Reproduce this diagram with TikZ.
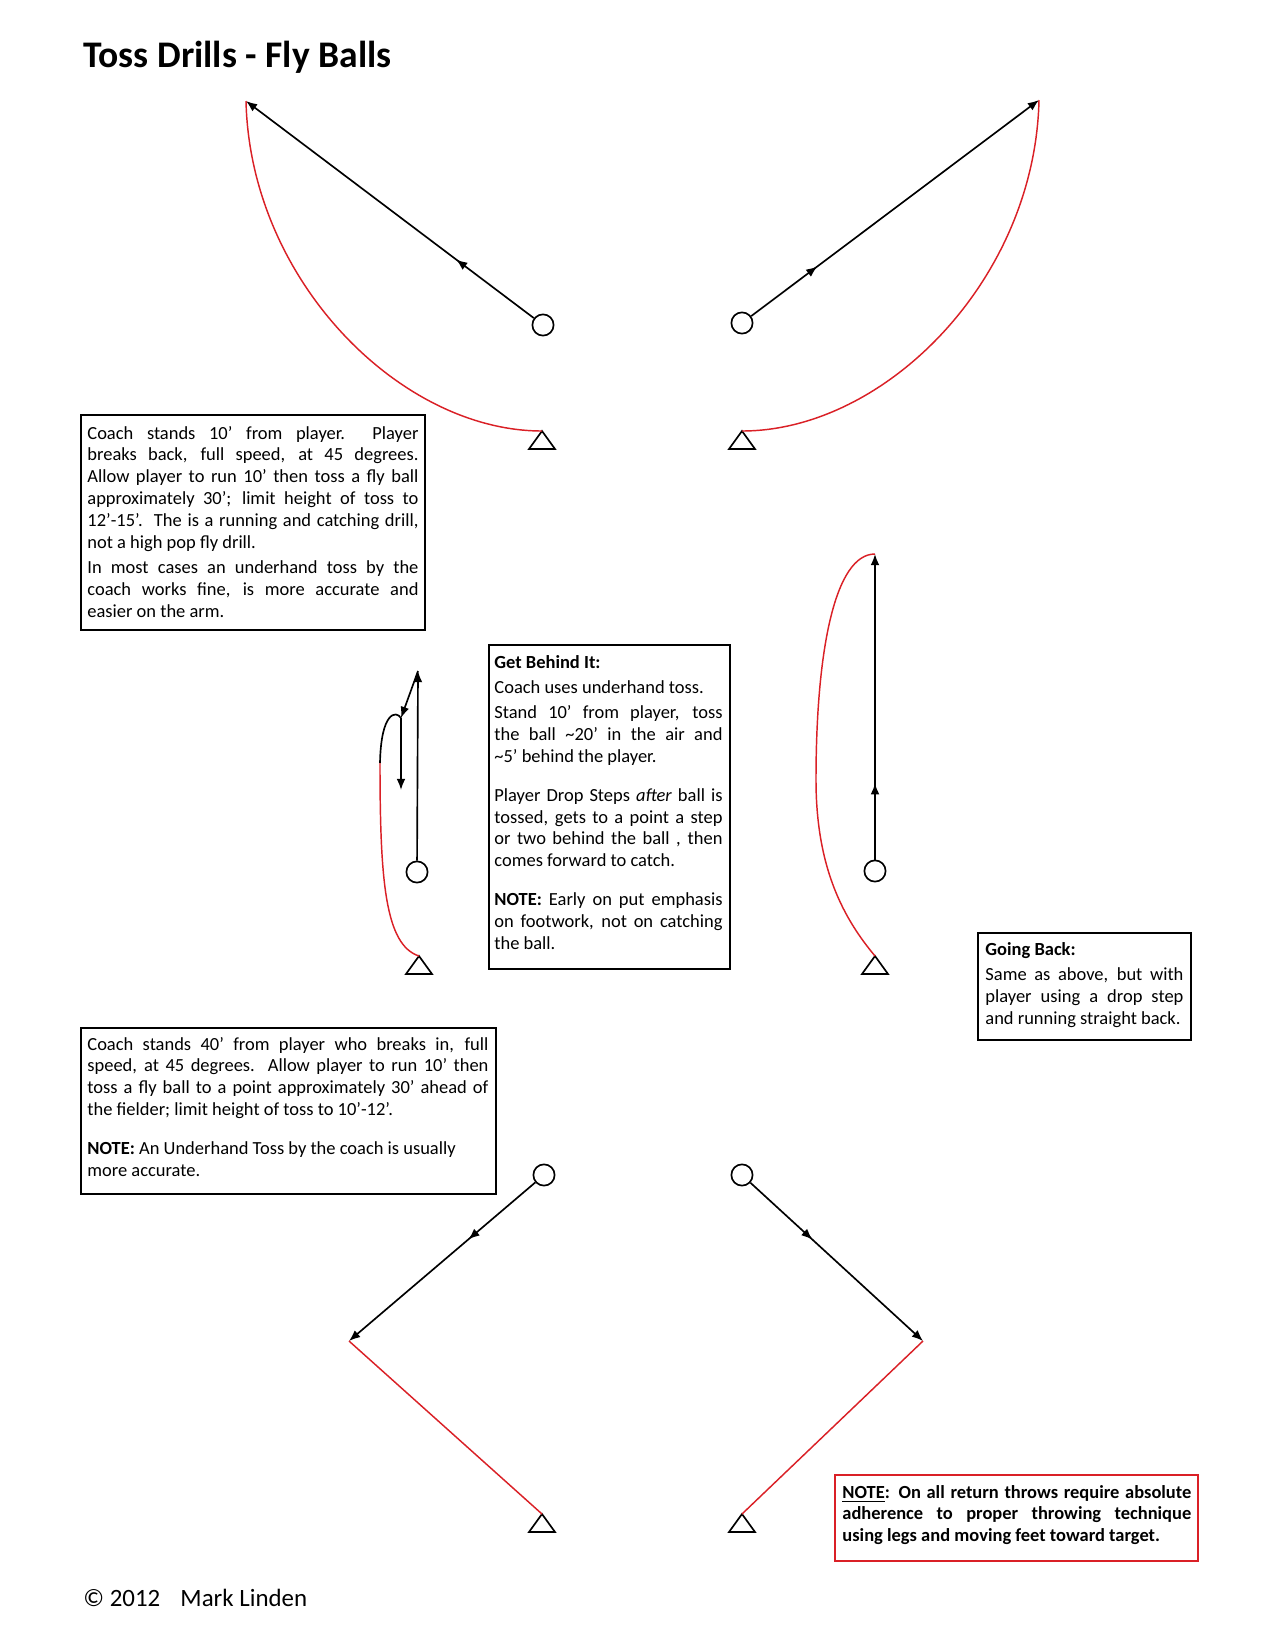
\documentclass[tikz,border=0pt]{standalone}
\usepackage{fontspec}
\setmainfont{Carlito}
\usetikzlibrary{arrows.meta,decorations.markings}

\definecolor{tossred}{RGB}{218,32,38}
\newcommand{\notefont}{\fontsize{8.9}{10.55}\selectfont\tolerance=9999\hyphenpenalty=10000\relax}
\newcommand{\paragap}{\par\vspace{1.6pt}}
\newcommand{\blankgap}{\par\vspace{8.2pt}}

\tikzset{
  player/.style={circle, draw, line width=0.8pt, minimum size=3.6mm, inner sep=0pt},
  runpath/.style={line width=0.8pt, -{Latex[length=1.9mm,width=1.5mm]}},
  catchpath/.style={draw=tossred, line width=0.7pt},
  midarrow/.style={postaction={decorate}, decoration={markings, mark=at position #1 with {\arrow{Latex[length=1.9mm,width=1.5mm]}}}},
  notebox/.style={draw, line width=1pt, anchor=north west, inner sep=0pt},
  notetext/.style={anchor=base west, inner sep=0pt, align=justify, font=\notefont},
  coach/.pic={\draw[line width=0.8pt] (0,0) -- (13,18) -- (-13,18) -- cycle;}
}

\begin{document}
\begin{tikzpicture}[x=0.16933mm, y=-0.16933mm]
  \fill[white] (0,0) rectangle (1275,1650);

  % Title
  \node[anchor=base west, inner sep=0pt, font=\fontsize{18.1}{21}\selectfont\bfseries] (title) at (83,67) {Toss Drills - Fly Balls};

  % Top left drill
  \node[player] (playerA) at (543,325) {};
  \coordinate (tipA) at (246,101);
  \coordinate (coachA) at (542,431);
  \pic at (coachA) {coach};
  \draw[runpath, midarrow=0.27] (playerA) -- (tipA);
  \draw[catchpath] (tipA) .. controls (250,280) and (400,431) .. (coachA);

  % Top right drill
  \node[player] (playerB) at (742,323) {};
  \coordinate (tipB) at (1039,100);
  \coordinate (coachB) at (742,431);
  \pic at (coachB) {coach};
  \draw[runpath, midarrow=0.23] (playerB) -- (tipB);
  \draw[catchpath] (tipB) .. controls (1035,280) and (885,431) .. (coachB);

  % Get behind it
  \node[player] (playerC) at (417,872) {};
  \coordinate (tipC) at (418,671);
  \coordinate (turnC) at (401,718);
  \coordinate (dropC) at (401,790);
  \coordinate (ballC) at (380,763);
  \coordinate (coachC) at (419,956);
  \pic at (coachC) {coach};
  \draw[runpath] (playerC) -- (tipC);
  \draw[runpath] (tipC) -- (turnC);
  \draw[runpath] (turnC) -- (dropC);
  \draw[line width=0.8pt] (turnC) .. controls (396,710) and (381,712) .. (ballC);
  \draw[catchpath] (ballC) .. controls (380,880) and (385,945) .. (coachC);

  % Going back
  \node[player] (playerD) at (875,871) {};
  \coordinate (tipD) at (875,554);
  \coordinate (coachD) at (875,956);
  \pic at (coachD) {coach};
  \draw[runpath, midarrow=0.25] (playerD) -- (tipD);
  \draw[catchpath] (tipD) .. controls (835,554) and (816,650) .. (816,780)
    .. controls (816,870) and (845,920) .. (coachD);

  % Bottom left drill
  \node[player] (playerE) at (544,1175) {};
  \coordinate (tipE) at (349,1341);
  \coordinate (coachE) at (542,1514);
  \pic at (coachE) {coach};
  \draw[runpath, midarrow=0.36] (playerE) -- (tipE);
  \draw[catchpath] (tipE) -- (coachE);

  % Bottom right drill
  \node[player] (playerF) at (742,1175) {};
  \coordinate (tipF) at (923,1341);
  \coordinate (coachF) at (742,1514);
  \pic at (coachF) {coach};
  \draw[runpath, midarrow=0.36] (playerF) -- (tipF);
  \draw[catchpath] (tipF) -- (coachF);

  % Notes
  \node[notebox, minimum width=58.25mm, minimum height=36.41mm] (boxA) at (80,414) {};
  \node[notetext, text width=159.5pt] (textA) at ([shift={(7,25)}]boxA.north west)
    {Coach stands 10’ from player.\ \ Player\linebreak breaks back, full speed, at 45 degrees.\linebreak Allow player to run 10’ then toss a fly ball\linebreak approximately 30’; limit height of toss to\linebreak 12’-15’.\ \ The is a running and catching drill,\linebreak not a high pop fly drill.\paragap
     In most cases an underhand toss by the\linebreak coach works fine, is more accurate and\linebreak easier on the arm.};

  \node[notebox, minimum width=40.81mm, minimum height=54.86mm] (boxB) at (488,644) {};
  \node[notetext, text width=109.9pt] (textB) at ([shift={(6,24)}]boxB.north west)
    {\textbf{Get Behind It:}\paragap
     Coach uses underhand toss.\paragap
     Stand 10’ from player, toss\linebreak the ball \textasciitilde20’ in the air and\linebreak \textasciitilde5’ behind the player.\blankgap
     Player Drop Steps \textit{after} ball is\linebreak tossed, gets to a point a step\linebreak or two behind the ball , then\linebreak comes forward to catch.\blankgap
     \textbf{NOTE:} Early on put emphasis\linebreak on footwork, not on catching\linebreak the ball.};

  \node[notebox, minimum width=36.07mm, minimum height=18.12mm] (boxC) at (977,932) {};
  \node[notetext, text width=95.4pt] (textC) at ([shift={(8,23)}]boxC.north west)
    {\textbf{Going Back:}\paragap
     Same as above, but with\linebreak player using a drop step\linebreak and running straight back.};

  \node[notebox, minimum width=70.27mm, minimum height=28.11mm] (boxD) at (80,1027) {};
  \node[notetext, text width=193.2pt] (textD) at ([shift={(7,23)}]boxD.north west)
    {Coach stands 40’ from player who breaks in, full\linebreak speed, at 45 degrees.\ \ Allow player to run 10’ then\linebreak toss a fly ball to a point approximately 30’ ahead of\linebreak the fielder; limit height of toss to 10’-12’.\blankgap
     \textbf{NOTE:} An Underhand Toss by the coach is usually\newline more accurate.};

  \node[notebox, draw=tossred, minimum width=61.47mm, minimum height=14.56mm] (boxE) at (834,1474) {};
  \node[notetext, text width=168.1pt] (textE) at ([shift={(8,24)}]boxE.north west)
    {\textbf{\underline{NOTE}: On all return throws require absolute\linebreak adherence to proper throwing technique\linebreak using legs and moving feet toward target.}};

  % Footer
  \node[anchor=base west, inner sep=0pt, font=\fontsize{12}{14}\selectfont] (credit) at (83,1606) {© 2012\hspace{7pt} Mark Linden};
\end{tikzpicture}
\end{document}
